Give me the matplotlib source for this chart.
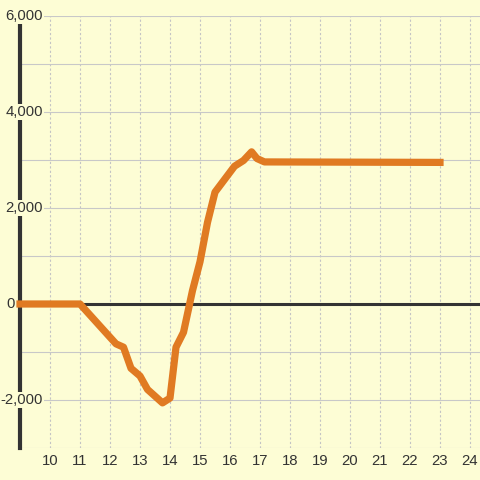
import matplotlib.pyplot as plt
from matplotlib.transforms import blended_transform_factory

# data
hours = [9, 11, 12.2, 12.45, 12.7, 13.0, 13.25, 13.75, 14.0, 14.2, 14.45,
         14.75, 15.0, 15.25, 15.5, 16.15, 16.45, 16.72, 16.9, 17.15, 23.0]
values = [0, 0, -830, -900, -1340, -1500, -1780, -2060, -1960, -900, -590,
          280, 880, 1700, 2330, 2870, 2990, 3170, 3030, 2960, 2950]

x_ticks = list(range(10, 25))
y_label_vals = [6000, 4000, 2000, 0, -2000]
y_label_text = ['6,000', '4,000', '2,000', '0', '-2,000']

bg = '#FDFDD5'
dark = '#333333'
orange = '#E07A22'

plt.rcParams['font.family'] = ['Liberation Sans', 'DejaVu Sans']

fig = plt.figure(figsize=(4.8, 4.8), dpi=100, facecolor=bg)
ax = fig.add_axes([20 / 480, 32 / 480, 460 / 480, 432 / 480], facecolor=bg)
ax.set_xlim(9, 9 + 460 / 30)
ax.set_ylim(-3000, 6000)

# grid
ax.set_yticks(range(-3000, 6001, 1000))
ax.set_yticklabels([])
ax.set_xticks(x_ticks)
ax.set_xticklabels([str(t) for t in x_ticks], fontsize=10.7, color=dark)
ax.tick_params(length=0)
ax.tick_params(axis='x', pad=4)
ax.grid(axis='y', color='#C8C8C8', lw=0.8)
ax.grid(axis='x', color='#C4C4C4', lw=0.8, linestyle=(0, (2, 2)))
ax.set_axisbelow(True)

for s in ['top', 'right', 'bottom']:
    ax.spines[s].set_visible(False)
ax.spines['left'].set_color(dark)
ax.spines['left'].set_linewidth(3)
ax.spines['left'].set_zorder(3)

ax.axhline(0, color=dark, lw=2.2, zorder=3)
ax.plot(hours, values, color=orange, lw=5.2, solid_capstyle='projecting',
        solid_joinstyle='round', zorder=4, clip_on=False)

# y labels sit over the spine with a background box
trans = blended_transform_factory(fig.transFigure, ax.transData)
for v, s in zip(y_label_vals, y_label_text):
    xpos = 15 if v == 0 else 43
    ax.text(xpos / 480, v, s, transform=trans, ha='right', va='center',
            fontsize=10.7, color=dark, zorder=5,
            bbox=dict(facecolor=bg, edgecolor='none', pad=1))

fig.savefig('out.png', dpi=100, facecolor=bg)
